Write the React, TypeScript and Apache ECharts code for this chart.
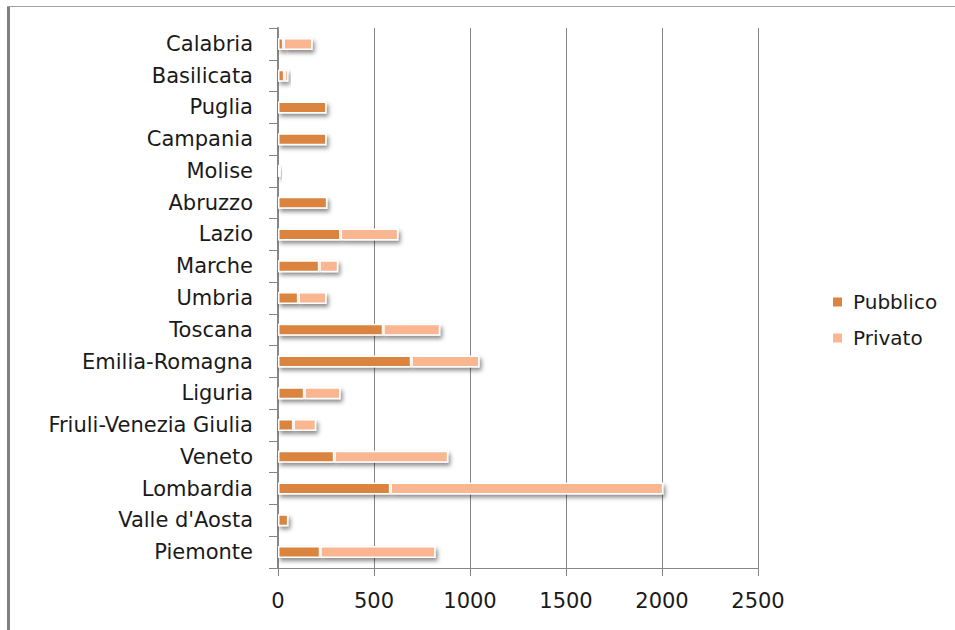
import React, { useEffect, useRef } from "react";
import * as echarts from "echarts";

const categories = [
  "Piemonte",
  "Valle d'Aosta",
  "Lombardia",
  "Veneto",
  "Friuli-Venezia Giulia",
  "Liguria",
  "Emilia-Romagna",
  "Toscana",
  "Umbria",
  "Marche",
  "Lazio",
  "Abruzzo",
  "Molise",
  "Campania",
  "Puglia",
  "Basilicata",
  "Calabria",
];
const pubblico = [220, 54, 585, 293, 80, 137, 694, 548, 106, 215, 326, 257, 15, 253, 253, 33, 28];
const privato = [601, 5, 1422, 594, 119, 189, 356, 297, 147, 99, 301, 0, 6, 0, 0, 21, 152];
const seriesNames = ["Pubblico", "Privato"];
const xTicks = { min: 0, max: 2500, interval: 500 };

export default function App() {
  const ref = useRef<HTMLDivElement>(null);
  useEffect(() => {
    if (!ref.current) return;
    const chart = echarts.init(ref.current, null, { renderer: "svg" });
    const font = "DejaVu Sans";
    const barStyle = (color: string) => ({
      color,
      borderColor: "#ffffff",
      borderWidth: 1.5,
      shadowColor: "rgba(0,0,0,0.45)",
      shadowBlur: 4,
      shadowOffsetX: 2,
      shadowOffsetY: 3,
    });
    chart.setOption({
      animation: false,
      backgroundColor: "#ffffff",
      grid: { left: 278, right: 197, top: 28, bottom: 62 },
      legend: {
        orient: "vertical",
        left: 826,
        top: 287,
        itemWidth: 11,
        itemHeight: 11,
        itemGap: 16,
        icon: "rect",
        textStyle: { fontFamily: font, fontSize: 20, color: "#1a1a1a", padding: [0, 0, 0, 5] },
        data: seriesNames,
      },
      xAxis: {
        type: "value",
        min: xTicks.min,
        max: xTicks.max,
        interval: xTicks.interval,
        axisLine: { show: true, lineStyle: { color: "#868686", width: 1 } },
        axisTick: { show: true, length: 8, lineStyle: { color: "#868686" } },
        splitLine: { show: true, lineStyle: { color: "#868686", width: 1 } },
        axisLabel: {
          fontFamily: font,
          fontSize: 21,
          color: "#1a1a1a",
          margin: 22,
          formatter: (v: number) => String(v),
        },
      },
      yAxis: {
        type: "category",
        data: categories,
        axisLine: { show: true, lineStyle: { color: "#868686", width: 2 } },
        axisTick: { show: true, length: 9, lineStyle: { color: "#868686", width: 1 } },
        axisLabel: { fontFamily: font, fontSize: 21, color: "#1a1a1a", margin: 25 },
      },
      graphic: [
        { type: "line", shape: { x1: 8.5, y1: 6, x2: 8.5, y2: 630 }, style: { stroke: "#808080", lineWidth: 3 } },
        { type: "line", shape: { x1: 7, y1: 6.5, x2: 955, y2: 6.5 }, style: { stroke: "#a0a0a0", lineWidth: 1 } },
      ],
      series: [
        {
          name: seriesNames[0],
          type: "bar",
          stack: "total",
          barWidth: 12,
          data: pubblico,
          itemStyle: barStyle("#DA843F"),
        },
        {
          name: seriesNames[1],
          type: "bar",
          stack: "total",
          barWidth: 12,
          data: privato,
          itemStyle: barStyle("#F9B690"),
        },
      ],
    });
    return () => chart.dispose();
  }, []);
  return (
    <div
      ref={ref}
      style={{ position: "fixed", left: 0, top: 0, width: 955, height: 630, background: "#fff" }}
    />
  );
}
